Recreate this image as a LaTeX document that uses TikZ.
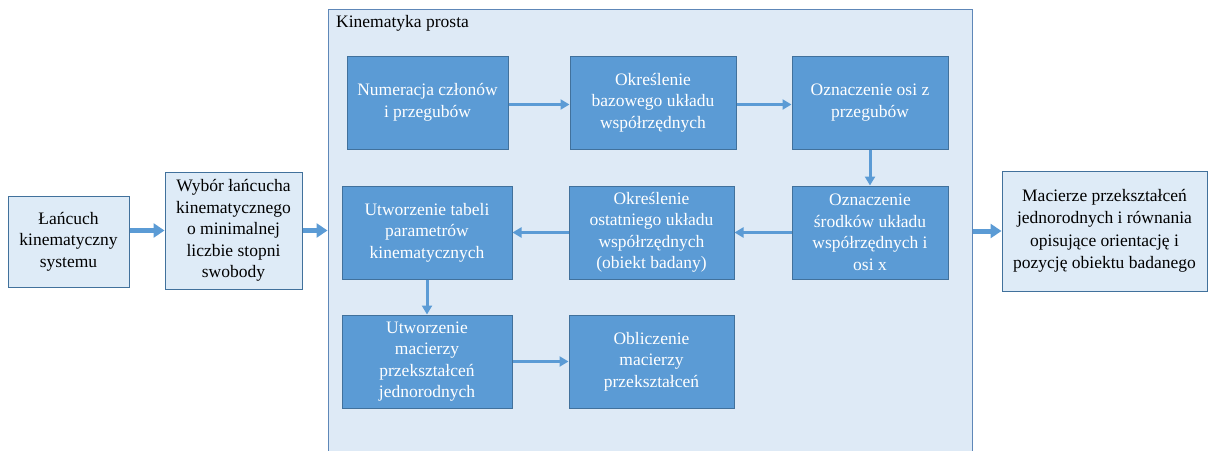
\documentclass[tikz,border=0pt]{standalone}
\usepackage{fontspec}
\setmainfont{Liberation Serif}
\usetikzlibrary{arrows.meta}
\definecolor{stepfill}{HTML}{5B9BD5}
\definecolor{stepline}{HTML}{41719C}
\definecolor{lightfill}{HTML}{DEEBF7}
\definecolor{panelfill}{HTML}{DEEAF6}
\definecolor{panelline}{HTML}{5E87B8}
\begin{document}
\begin{tikzpicture}[x=1pt,y=-1pt,
  txt/.style={font=\fontsize{17.5}{21.5}\selectfont, align=center, inner sep=0pt},
  darkbox/.style={txt, draw=stepline, line width=1pt, fill=stepfill, text=white, minimum height=93pt},
  lightbox/.style={txt, draw=stepline, line width=1pt, fill=lightfill, text=black},
  panel/.style={draw=panelline, line width=1pt, fill=panelfill, inner sep=0pt},
  bigarrow/.style={draw=stepfill, line width=5pt, -{Triangle[width=14pt,length=11pt]}},
  smallarrow/.style={draw=stepfill, line width=3pt, -{Triangle[width=10pt,length=9pt]}}]
\useasboundingbox (0,0) rectangle (1209,450);

% outer panel
\node[panel, minimum width=644pt, minimum height=451pt] (kp) at (650,234.5) {};
\node[anchor=west, font=\fontsize{17.5}{21.5}\selectfont, inner sep=0pt] (kptitle) at (336,23) {Kinematyka prosta};

% inner steps
\node[darkbox, minimum width=161pt] (A) at (427.5,102.5) {Numeracja członów\\i przegubów};
\node[darkbox, minimum width=166pt] (B) at (653,102.5) {Określenie\\bazowego układu\\współrzędnych};
\node[darkbox, minimum width=156pt] (C) at (870,102.5) {Oznaczenie osi z\\przegubów};
\node[darkbox, minimum width=156pt] (D) at (870,232.5) {Oznaczenie\\środków układu\\współrzędnych i\\osi x};
\node[darkbox, minimum width=165pt] (E) at (651.5,232.5) {Określenie\\ostatniego układu\\współrzędnych\\(obiekt badany)};
\node[darkbox, minimum width=170pt] (F) at (427,232.5) {Utworzenie tabeli\\parametrów\\kinematycznych};
\node[darkbox, minimum width=170pt] (G) at (427,361.5) {Utworzenie\\macierzy\\przekształceń\\jednorodnych};
\node[darkbox, minimum width=165pt] (H) at (651.5,361.5) {Obliczenie\\macierzy\\przekształceń};

% outer boxes
\node[lightbox, minimum width=121pt, minimum height=91pt] (L1) at (68.5,241.5) {Łańcuch\\kinematyczny\\systemu};
\node[lightbox, minimum width=137pt, minimum height=117pt] (L2) at (233.5,230.5) {Wybór łańcucha\\kinematycznego\\o minimalnej\\liczbie stopni\\swobody};
\node[lightbox, minimum width=205pt, minimum height=120pt, font=\fontsize{17.5}{22.5}\selectfont] (R) at (1104.5,231) {Macierze przekształceń\\jednorodnych i równania\\opisujące orientację i\\pozycję obiektu badanego};

% connectors
\draw[bigarrow] (L1.east |- L2.west) -- (L2.west);
\draw[bigarrow] (L2.east) -- (L2.east -| kp.west);
\draw[bigarrow] (kp.east |- R.west) -- (R.west);

\draw[smallarrow] ([yshift=-2pt]A.east) -- ([yshift=-2pt]B.west);
\draw[smallarrow] ([yshift=-2pt]B.east) -- ([yshift=-2pt]C.west);
\draw[smallarrow] (C.south) -- (D.north);
\draw[smallarrow] (D.west) -- (E.east);
\draw[smallarrow] (E.west) -- (F.east);
\draw[smallarrow] (F.south) -- (G.north);
\draw[smallarrow] (G.east) -- (H.west);
\end{tikzpicture}
\end{document}
